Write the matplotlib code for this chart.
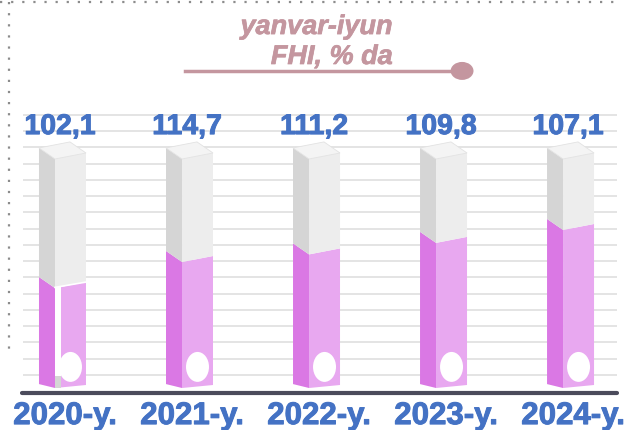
import numpy as np
import matplotlib
matplotlib.use('Agg')
import matplotlib.pyplot as plt
import matplotlib.patheffects as pe
from matplotlib.patches import Polygon, Ellipse

years = ['2020-y.', '2021-y.', '2022-y.', '2023-y.', '2024-y.']
values = [102.1, 114.7, 111.2, 109.8, 107.1]
value_labels = [('%.1f' % v).replace('.', ',') for v in values]
# pink fill level of each tube, % of tube height
fill = [44.0, 55.3, 58.6, 63.6, 69.2]

plt.rcParams['font.family'] = ['Liberation Sans', 'DejaVu Sans']

BLUE = '#4472C4'
ROSE = '#C4969F'
GREY_SIDE, GREY_FRONT, GREY_TOP = '#D5D5D5', '#EDEDED', '#F4F4F4'
PINK_SIDE, PINK_FRONT = '#DA78E4', '#E8A8F0'

# tube geometry (x in category units, y in % of tube)
XS, XF0, XF1 = -0.185, -0.059, 0.185
DROP, RISE = 4.8, 2.6        # slant of top / fill edge
DROP_B, RISE_B = 1.7, 1.3    # slant of bottom edge


def edge(i, f, drop, rise):
    fl = f - rise / 2
    return (i + XS, fl + drop), (i + XF0, fl), (i + XF1, f + rise / 2)


def faces(ax, i, lo, hi, side_c, front_c, lo_slant, hi_slant, z=3):
    a = edge(i, lo, *lo_slant)
    b = edge(i, hi, *hi_slant)
    ax.add_patch(Polygon([a[0], a[1], b[1], b[0]], closed=True,
                         fc=side_c, ec='none', zorder=z))
    ax.add_patch(Polygon([a[1], a[2], b[2], b[1]], closed=True,
                         fc=front_c, ec='none', zorder=z))


def heavy(c, w=0.7):
    return [pe.withStroke(linewidth=w, foreground=c)]


fig = plt.figure(figsize=(6.31, 4.31), dpi=100)
ax = fig.add_axes([0, 0, 1, 1])
ax.set_xlim(-0.492, 4.476)
ax.set_ylim(-18.87, 168.1)
ax.axis('off')

# background grid
grid_y = (387.5 - (116 + 16.25 * np.arange(17))) / 2.305
ax.hlines(grid_y, -0.311, 4.366, color='#E2E2E2', lw=1.3, zorder=0)

# dotted frame
ax.plot([-0.492, 4.40], [166.8, 166.8], ls=(0, (1, 4)), color='#8C8C8C', lw=1.6)
ax.plot([-0.421, -0.421], [166.8, 15.0], ls=(0, (1, 4)), color='#8C8C8C', lw=1.6)

bottom = (DROP_B, RISE_B)
top = (DROP, RISE)
for i, f in enumerate(fill):
    faces(ax, i, 0, f, PINK_SIDE, PINK_FRONT, bottom, top)
    faces(ax, i, f, 100, GREY_SIDE, GREY_FRONT, top, top)
    s, fl, fr = edge(i, 100, DROP, RISE)
    back = (s[0] + (XF1 - XF0), s[1] + RISE)
    ax.add_patch(Polygon([s, fl, fr, back], closed=True, fc=GREY_TOP,
                         ec='#E2E2E2', lw=0.6, zorder=3))
    if i == 0:
        # split on the first tube's front face
        gx = [i + XF0, i + XF0 + 0.045]
        lo_y = edge(i, 0, *bottom)[1][1]
        hi_y = edge(i, f, *top)[1][1] + 0.3
        ax.fill_between(gx, [lo_y, lo_y], [hi_y, hi_y], color='white', lw=0, zorder=4)
        ax.fill_between(gx, [lo_y, lo_y], [lo_y + 5, lo_y + 5], color=GREY_SIDE,
                        lw=0, zorder=4)
        ax.plot([i + XF0, i + XF1], [hi_y, f + RISE / 2], color='white', lw=1.2, zorder=4)
    ax.add_patch(Ellipse((i + (XF0 + XF1) / 2, 8.5), 0.181, 13.0, fc='white',
                         ec='none', zorder=5))
    ax.text(i - 0.02, 109.5, value_labels[i], ha='center', va='baseline',
            fontsize=20.5, fontweight='bold', color=BLUE, path_effects=heavy(BLUE))
    ax.text(i + 0.02, -16.3, years[i], ha='center', va='baseline',
            fontsize=22.5, fontweight='bold', color=BLUE, path_effects=heavy(BLUE))

# axis base line
ax.plot([-0.319, 4.366], [-2.8, -2.8], color='#4B4B5B', lw=3,
        solid_capstyle='round', zorder=2)

# legend-like title
ax.text(2.602, 152.9, 'yanvar-iyun', ha='right', va='baseline', fontsize=19.5,
        fontweight='bold', fontstyle='italic', color=ROSE, path_effects=heavy(ROSE, 0.5))
ax.text(2.602, 139.9, 'FHI, % da', ha='right', va='baseline', fontsize=19.5,
        fontweight='bold', fontstyle='italic', color=ROSE, path_effects=heavy(ROSE, 0.5))
ax.plot([0.965, 3.146], [136.9, 136.9], color=ROSE, lw=2.5)
ax.add_patch(Ellipse((3.146, 136.9), 0.18, 7.8, fc=ROSE, ec='none'))

plt.savefig('out.png', dpi=100)
